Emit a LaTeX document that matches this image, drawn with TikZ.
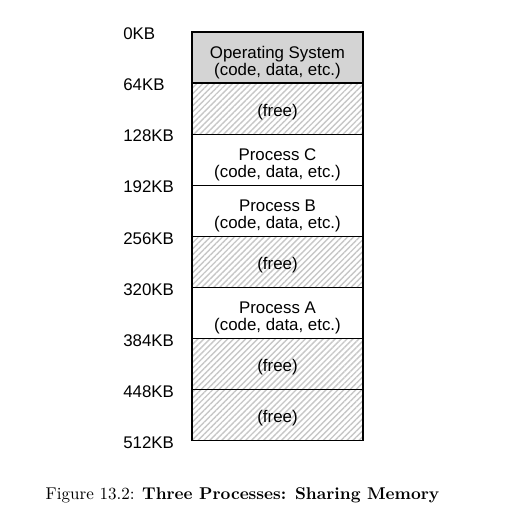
\documentclass[tikz,border=0pt]{standalone}
\usepackage{fontspec}
\newfontfamily\helv{Liberation Sans}
\usetikzlibrary{patterns.meta}
\begin{document}
\begin{tikzpicture}
  \tikzstyle{seg}=[draw, line width=0.75pt, minimum width=3.42cm, minimum height=1.022cm, inner sep=0pt]
  \tikzstyle{osseg}=[seg, fill=black!17]
  \tikzstyle{freeseg}=[seg, pattern={Lines[angle=45, distance=2.4pt, line width=0.8pt]}, pattern color=black!22]
  \tikzstyle{lbl}=[inner sep=0pt, align=center, font=\helv\fontsize{9.6}{9.8}\selectfont]
  \tikzstyle{kb}=[anchor=west, font=\helv\fontsize{9.6}{9.8}\selectfont, inner sep=0pt]

  % Rahmen des ganzen Bildes, 508 x 519 Pixel bei 0,02 cm je Pixel
  \useasboundingbox (0,0) rectangle (10.16,-10.38);

  % Speicher als Saeule, acht Abschnitte zu je 64KB, Mitte bei x = 5,55
  \node[osseg] (os) at (5.55,-1.151) {};
  \node[freeseg] (free1) at (5.55,-2.173) {};
  \node[seg] (procC) at (5.55,-3.195) {};
  \node[seg] (procB) at (5.55,-4.217) {};
  \node[freeseg] (free2) at (5.55,-5.239) {};
  \node[seg] (procA) at (5.55,-6.261) {};
  \node[freeseg] (free3) at (5.55,-7.283) {};
  \node[freeseg] (free4) at (5.55,-8.305) {};

  % Texte sitzen etwas unter der Mitte der Abschnitte
  \node[lbl] (ostxt) at ([yshift=-0.1cm]os.center) {Operating System\\(code, data, etc.)};
  \node[lbl] (f1txt) at ([yshift=-0.06cm]free1.center) {(free)};
  \node[lbl] (ctxt) at ([yshift=-0.1cm]procC.center) {Process C\\(code, data, etc.)};
  \node[lbl] (btxt) at ([yshift=-0.1cm]procB.center) {Process B\\(code, data, etc.)};
  \node[lbl] (f2txt) at ([yshift=-0.06cm]free2.center) {(free)};
  \node[lbl] (atxt) at ([yshift=-0.1cm]procA.center) {Process A\\(code, data, etc.)};
  \node[lbl] (f3txt) at ([yshift=-0.06cm]free3.center) {(free)};
  \node[lbl] (f4txt) at ([yshift=-0.06cm]free4.center) {(free)};

  % Adressen links, linksbuendig bei x = 2,46
  \node[kb] (kb0) at (2.46,-0.68) {0KB};
  \node[kb] (kb64) at (2.46,-1.70) {64KB};
  \node[kb] (kb128) at (2.46,-2.72) {128KB};
  \node[kb] (kb192) at (2.46,-3.74) {192KB};
  \node[kb] (kb256) at (2.46,-4.77) {256KB};
  \node[kb] (kb320) at (2.46,-5.79) {320KB};
  \node[kb] (kb384) at (2.46,-6.81) {384KB};
  \node[kb] (kb448) at (2.46,-7.83) {448KB};
  \node[kb] (kb512) at (2.46,-8.85) {512KB};

  % Bildunterschrift
  \node[font=\fontsize{9.7}{11.5}\selectfont, inner sep=0pt] (cap) at (4.85,-9.90) {Figure 13.2: \textbf{Three Processes: Sharing Memory}};
\end{tikzpicture}
\end{document}
